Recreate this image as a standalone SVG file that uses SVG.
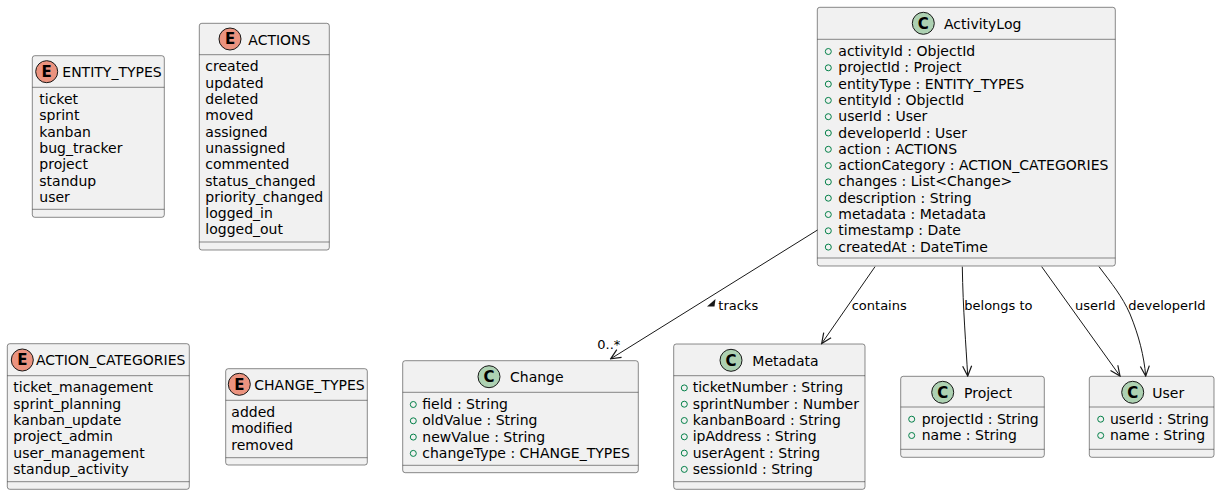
<svg xmlns="http://www.w3.org/2000/svg" width="1220" height="495" viewBox="0 0 1220 495">
<style>
.box{fill:#F1F1F1;stroke:#181818;stroke-width:0.5}
.sep{stroke:#181818;stroke-width:0.5}
.t{font-family:"DejaVu Sans","Liberation Sans",sans-serif;font-size:14px;fill:#000}
.lbl{font-family:"DejaVu Sans","Liberation Sans",sans-serif;font-size:13px;fill:#000}
.ic{font-family:"DejaVu Sans","Liberation Sans",sans-serif;font-size:15px;font-weight:bold;fill:#000;text-anchor:middle}
.cc{fill:#ADD1B2;stroke:#181818;stroke-width:1}
.ec{fill:#EB937F;stroke:#181818;stroke-width:1}
.v{fill:none;stroke:#038048;stroke-width:1}
.ln{fill:none;stroke:#181818;stroke-width:1}
</style>
<defs>
<marker id="arr" viewBox="0 0 12 12" refX="11" refY="6" markerWidth="12" markerHeight="12" markerUnits="userSpaceOnUse" orient="auto">
<path d="M1,1.5 L11,6 L1,10.5" fill="none" stroke="#181818" stroke-width="1.2"/>
</marker>
</defs>

<g id="ENTITY_TYPES">
<rect class="box" x="32.3" y="55.7" width="132" height="161.6" rx="2.5"/>
<circle class="ec" cx="46.7" cy="71.7" r="11"/><text class="ic" x="46.7" y="77">E</text>
<text class="t" x="62.3" y="77">ENTITY_TYPES</text>
<line class="sep" x1="32.3" y1="87.3" x2="164.3" y2="87.3"/>
<text class="t" x="39.3" y="104">ticket</text>
<text class="t" x="39.3" y="120.3">sprint</text>
<text class="t" x="39.3" y="136.6">kanban</text>
<text class="t" x="39.3" y="152.9">bug_tracker</text>
<text class="t" x="39.3" y="169.2">project</text>
<text class="t" x="39.3" y="185.5">standup</text>
<text class="t" x="39.3" y="201.8">user</text>
<line class="sep" x1="32.3" y1="209.3" x2="164.3" y2="209.3"/>
</g>

<g id="ACTIONS">
<rect class="box" x="199.3" y="23.3" width="130" height="226.7" rx="2.5"/>
<circle class="ec" cx="230" cy="39" r="11"/><text class="ic" x="230" y="44.3">E</text>
<text class="t" x="248.3" y="44.5">ACTIONS</text>
<line class="sep" x1="199.3" y1="54.7" x2="329.3" y2="54.7"/>
<text class="t" x="205.3" y="71.4">created</text>
<text class="t" x="205.3" y="87.7">updated</text>
<text class="t" x="205.3" y="104">deleted</text>
<text class="t" x="205.3" y="120.3">moved</text>
<text class="t" x="205.3" y="136.6">assigned</text>
<text class="t" x="205.3" y="152.9">unassigned</text>
<text class="t" x="205.3" y="169.2">commented</text>
<text class="t" x="205.3" y="185.5">status_changed</text>
<text class="t" x="205.3" y="201.8">priority_changed</text>
<text class="t" x="205.3" y="218.1">logged_in</text>
<text class="t" x="205.3" y="234.4">logged_out</text>
<line class="sep" x1="199.3" y1="242" x2="329.3" y2="242"/>
</g>

<g id="ActivityLog">
<rect class="box" x="817.3" y="7.3" width="298" height="258.7" rx="2.5"/>
<circle class="cc" cx="923.3" cy="23.3" r="11"/><text class="ic" x="923.3" y="28.6">C</text>
<text class="t" x="944" y="28.5">ActivityLog</text>
<line class="sep" x1="817.3" y1="39.3" x2="1115.3" y2="39.3"/>
<g>
<circle class="v" cx="828.3" cy="51.5" r="3"/><text class="t" x="838.3" y="56">activityId : ObjectId</text>
<circle class="v" cx="828.3" cy="67.8" r="3"/><text class="t" x="838.3" y="72.3">projectId : Project</text>
<circle class="v" cx="828.3" cy="84.1" r="3"/><text class="t" x="838.3" y="88.6">entityType : ENTITY_TYPES</text>
<circle class="v" cx="828.3" cy="100.4" r="3"/><text class="t" x="838.3" y="104.9">entityId : ObjectId</text>
<circle class="v" cx="828.3" cy="116.7" r="3"/><text class="t" x="838.3" y="121.2">userId : User</text>
<circle class="v" cx="828.3" cy="133" r="3"/><text class="t" x="838.3" y="137.5">developerId : User</text>
<circle class="v" cx="828.3" cy="149.3" r="3"/><text class="t" x="838.3" y="153.8">action : ACTIONS</text>
<circle class="v" cx="828.3" cy="165.6" r="3"/><text class="t" x="838.3" y="170.1">actionCategory : ACTION_CATEGORIES</text>
<circle class="v" cx="828.3" cy="181.9" r="3"/><text class="t" x="838.3" y="186.4">changes : List&lt;Change&gt;</text>
<circle class="v" cx="828.3" cy="198.2" r="3"/><text class="t" x="838.3" y="202.7">description : String</text>
<circle class="v" cx="828.3" cy="214.5" r="3"/><text class="t" x="838.3" y="219">metadata : Metadata</text>
<circle class="v" cx="828.3" cy="230.8" r="3"/><text class="t" x="838.3" y="235.3">timestamp : Date</text>
<circle class="v" cx="828.3" cy="247.1" r="3"/><text class="t" x="838.3" y="251.6">createdAt : DateTime</text>
</g>
<line class="sep" x1="817.3" y1="258" x2="1115.3" y2="258"/>
</g>

<g id="ACTION_CATEGORIES">
<rect class="box" x="7.3" y="343.7" width="182" height="145.6" rx="2.5"/>
<circle class="ec" cx="22.3" cy="360" r="11"/><text class="ic" x="22.3" y="365.3">E</text>
<text class="t" x="36" y="365.3">ACTION_CATEGORIES</text>
<line class="sep" x1="7.3" y1="375.7" x2="189.3" y2="375.7"/>
<text class="t" x="13.3" y="392.4">ticket_management</text>
<text class="t" x="13.3" y="408.7">sprint_planning</text>
<text class="t" x="13.3" y="425">kanban_update</text>
<text class="t" x="13.3" y="441.3">project_admin</text>
<text class="t" x="13.3" y="457.6">user_management</text>
<text class="t" x="13.3" y="473.9">standup_activity</text>
<line class="sep" x1="7.3" y1="481.7" x2="189.3" y2="481.7"/>
</g>

<g id="CHANGE_TYPES">
<rect class="box" x="225.7" y="368.7" width="141.6" height="96.3" rx="2.5"/>
<circle class="ec" cx="239.3" cy="384.3" r="11"/><text class="ic" x="239.3" y="389.6">E</text>
<text class="t" x="254.3" y="389.7">CHANGE_TYPES</text>
<line class="sep" x1="225.7" y1="400.3" x2="367.3" y2="400.3"/>
<text class="t" x="231.3" y="417">added</text>
<text class="t" x="231.3" y="433.3">modified</text>
<text class="t" x="231.3" y="449.6">removed</text>
<line class="sep" x1="225.7" y1="457.7" x2="367.3" y2="457.7"/>
</g>

<g id="Change">
<rect class="box" x="402.7" y="360.7" width="235.6" height="112" rx="2.5"/>
<circle class="cc" cx="489" cy="376.7" r="11"/><text class="ic" x="489" y="382">C</text>
<text class="t" x="510" y="381.8">Change</text>
<line class="sep" x1="402.7" y1="392.3" x2="638.3" y2="392.3"/>
<circle class="v" cx="413.3" cy="404.5" r="3"/><text class="t" x="422.3" y="409">field : String</text>
<circle class="v" cx="413.3" cy="420.8" r="3"/><text class="t" x="422.3" y="425.3">oldValue : String</text>
<circle class="v" cx="413.3" cy="437.1" r="3"/><text class="t" x="422.3" y="441.6">newValue : String</text>
<circle class="v" cx="413.3" cy="453.4" r="3"/><text class="t" x="422.3" y="457.9">changeType : CHANGE_TYPES</text>
<line class="sep" x1="402.7" y1="465.3" x2="638.3" y2="465.3"/>
</g>

<g id="Metadata">
<rect class="box" x="673.7" y="344" width="191.3" height="145.3" rx="2.5"/>
<circle class="cc" cx="731" cy="360.3" r="11"/><text class="ic" x="731" y="365.6">C</text>
<text class="t" x="752.3" y="365.5">Metadata</text>
<line class="sep" x1="673.7" y1="375.7" x2="865" y2="375.7"/>
<circle class="v" cx="684.3" cy="387.9" r="3"/><text class="t" x="692.7" y="392.4">ticketNumber : String</text>
<circle class="v" cx="684.3" cy="404.2" r="3"/><text class="t" x="692.7" y="408.7">sprintNumber : Number</text>
<circle class="v" cx="684.3" cy="420.5" r="3"/><text class="t" x="692.7" y="425">kanbanBoard : String</text>
<circle class="v" cx="684.3" cy="436.8" r="3"/><text class="t" x="692.7" y="441.3">ipAddress : String</text>
<circle class="v" cx="684.3" cy="453.1" r="3"/><text class="t" x="692.7" y="457.6">userAgent : String</text>
<circle class="v" cx="684.3" cy="469.4" r="3"/><text class="t" x="692.7" y="473.9">sessionId : String</text>
<line class="sep" x1="673.7" y1="481.7" x2="865" y2="481.7"/>
</g>

<g id="Project">
<rect class="box" x="900.7" y="376.3" width="143.6" height="81" rx="2.5"/>
<circle class="cc" cx="942.7" cy="392.3" r="11"/><text class="ic" x="942.7" y="397.6">C</text>
<text class="t" x="964" y="397.5">Project</text>
<line class="sep" x1="900.7" y1="407" x2="1044.3" y2="407"/>
<circle class="v" cx="911.7" cy="419.2" r="3"/><text class="t" x="921.7" y="423.7">projectId : String</text>
<circle class="v" cx="911.7" cy="435.5" r="3"/><text class="t" x="921.7" y="440">name : String</text>
<line class="sep" x1="900.7" y1="449.3" x2="1044.3" y2="449.3"/>
</g>

<g id="User">
<rect class="box" x="1089.3" y="376.3" width="124.7" height="81" rx="2.5"/>
<circle class="cc" cx="1132.7" cy="392.3" r="11"/><text class="ic" x="1132.7" y="397.6">C</text>
<text class="t" x="1152.3" y="397.5">User</text>
<line class="sep" x1="1089.3" y1="407" x2="1214" y2="407"/>
<circle class="v" cx="1100.7" cy="419.2" r="3"/><text class="t" x="1110" y="423.7">userId : String</text>
<circle class="v" cx="1100.7" cy="435.5" r="3"/><text class="t" x="1110" y="440">name : String</text>
<line class="sep" x1="1089.3" y1="449.3" x2="1214" y2="449.3"/>
</g>

<g id="connectors">
<path class="ln" d="M817.5,230 L610.7,358.8" marker-end="url(#arr)"/>
<polygon points="715.5,299 707,306.5 714.5,306.5" fill="#181818"/>
<text class="lbl" x="718.3" y="310">tracks</text>
<text class="lbl" x="597.3" y="349">0..*</text>

<path class="ln" d="M875,266.7 L821.7,343.5" marker-end="url(#arr)"/>
<text class="lbl" x="851.7" y="310">contains</text>

<path class="ln" d="M962.3,266.7 C963,310 966,345 967.7,376" marker-end="url(#arr)"/>
<text class="lbl" x="964.3" y="310">belongs to</text>

<path class="ln" d="M1041.7,266.7 L1120,376" marker-end="url(#arr)"/>
<text class="lbl" x="1075" y="310">userId</text>

<path class="ln" d="M1099,266.7 C1112,284 1122,296 1130,314 C1139,336 1144,356 1145.7,376" marker-end="url(#arr)"/>
<text class="lbl" x="1128.3" y="310">developerId</text>
</g>
</svg>
